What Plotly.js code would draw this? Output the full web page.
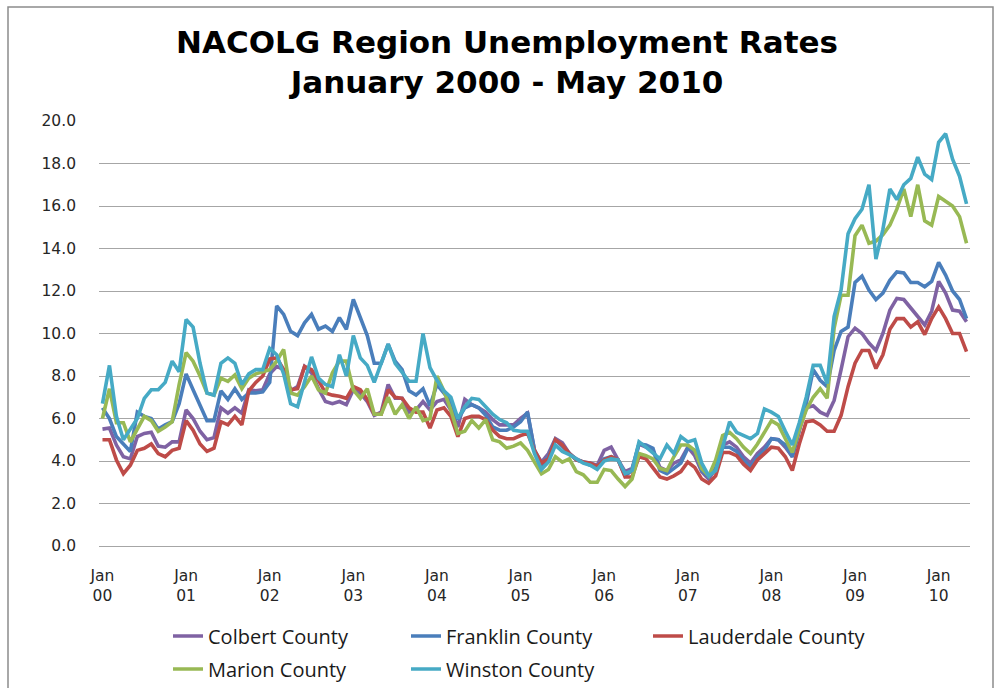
<!DOCTYPE html>
<html>
<head>
<meta charset="utf-8">
<script src="https://cdn.plot.ly/plotly-3.0.1.min.js"></script>
<style>
html,body{margin:0;padding:0;background:#ffffff;}
#chart{width:997px;height:688px;}
</style>
</head>
<body>
<div id="chart"></div>
<script>
// ---- categories (Jan 2000 .. May 2010, monthly) ----
const monthNames = ['Jan','Feb','Mar','Apr','May','Jun','Jul','Aug','Sep','Oct','Nov','Dec'];
const firstYear = 2000;
const monthCount = 125;
const months = [];
for (let k = 0; k < monthCount; k++) {
  const yr = firstYear + Math.floor(k / 12);
  months.push(monthNames[k % 12] + ' ' + String(yr).slice(2));
}
const tickMonths = months.filter(m => m.startsWith('Jan'));
const tickLabels = tickMonths.map(m => m.replace(' ', '<br>'));

// ---- series values (percent) ----
const colbert = [
  5.5,5.55,4.75,4.2,4.1,5.15,5.3,5.35,4.7,4.65,4.9,4.9,
  6.4,6.0,5.4,5.0,5.1,6.5,6.25,6.5,6.25,7.35,7.3,7.35,
  8.1,8.45,8.3,7.3,7.5,8.45,8.15,7.4,6.8,6.7,6.8,6.65,
  7.35,7.2,6.8,6.15,6.3,7.6,6.95,6.95,6.3,6.4,6.8,6.4,
  6.8,6.9,6.4,5.6,6.9,6.65,6.5,6.3,5.95,5.7,5.7,5.7,
  6.0,6.25,4.5,3.95,4.35,5.05,4.85,4.35,4.1,3.95,3.9,3.8,
  4.5,4.65,4.05,3.5,3.65,4.8,4.65,4.5,3.7,3.55,3.9,4.05,
  4.65,4.25,3.5,3.15,3.65,4.75,4.9,4.65,4.2,3.9,4.35,4.65,
  5.05,5.0,4.65,4.2,5.45,6.5,6.6,6.3,6.15,6.85,8.3,9.85,
  10.25,10.0,9.55,9.2,10.0,11.1,11.65,11.6,11.2,10.8,10.4,11.05,
  12.45,11.9,11.1,11.05,10.55
];
const franklin = [
  6.5,6.0,5.15,4.8,4.45,6.3,6.1,6.0,5.5,5.7,5.85,6.7,
  8.1,7.35,6.65,5.9,5.9,7.3,6.9,7.4,6.9,7.2,7.2,7.25,
  7.7,11.3,10.9,10.1,9.9,10.5,10.9,10.2,10.35,10.1,10.75,10.2,
  11.6,10.8,9.9,8.6,8.6,9.5,8.7,8.3,7.3,7.1,7.4,6.6,
  7.6,7.2,6.8,5.95,6.5,6.65,6.5,6.15,5.6,5.45,5.45,5.6,
  5.85,6.3,4.5,3.8,4.2,5.0,4.7,4.35,4.05,3.95,3.8,3.75,
  4.1,4.2,4.05,3.3,3.55,4.8,4.75,4.6,3.55,3.4,3.65,3.9,
  4.6,4.5,3.55,3.25,3.65,4.65,4.65,4.45,4.05,3.7,4.2,4.5,
  5.05,5.0,4.75,4.2,5.45,6.7,8.3,7.8,7.5,9.2,10.1,10.3,
  12.4,12.7,12.05,11.6,11.9,12.5,12.9,12.85,12.4,12.4,12.2,12.45,
  13.35,12.75,12.0,11.6,10.7
];
const lauderdale = [
  5.0,5.0,4.05,3.4,3.8,4.5,4.6,4.8,4.35,4.2,4.5,4.6,
  5.9,5.45,4.8,4.45,4.6,5.85,5.7,6.1,5.7,7.3,7.7,8.0,
  8.8,8.85,8.3,7.35,7.4,8.45,8.3,7.8,7.2,7.1,7.05,6.95,
  7.5,7.35,6.9,6.2,6.2,7.35,7.0,6.95,6.5,6.3,6.3,5.55,
  6.4,6.5,6.1,5.15,6.0,6.1,6.1,5.95,5.45,5.15,5.05,5.05,
  5.2,5.3,4.5,3.9,4.1,5.0,4.75,4.35,4.05,3.95,3.9,3.75,
  4.05,4.2,4.05,3.25,3.25,4.2,4.1,3.7,3.25,3.15,3.3,3.5,
  3.95,3.7,3.15,2.95,3.3,4.4,4.4,4.25,3.85,3.55,4.05,4.35,
  4.65,4.6,4.2,3.55,4.8,5.85,5.9,5.7,5.4,5.4,6.15,7.5,
  8.6,9.2,9.2,8.35,9.0,10.2,10.7,10.7,10.3,10.55,9.95,10.7,
  11.25,10.7,10.0,10.0,9.15
];
const marion = [
  6.0,7.4,5.8,5.8,4.9,5.5,6.1,5.9,5.4,5.6,5.85,7.6,
  9.1,8.7,8.0,7.2,7.1,7.9,7.75,8.05,7.4,7.9,8.1,8.2,
  8.3,8.7,9.25,7.2,7.1,7.5,8.0,7.35,7.2,8.15,8.7,8.7,
  7.35,6.95,7.4,6.2,6.2,7.0,6.2,6.65,6.0,6.55,5.9,6.0,
  8.0,7.3,6.4,5.3,5.4,5.9,5.55,5.95,5.0,4.9,4.6,4.7,
  4.85,4.5,3.95,3.4,3.6,4.2,3.95,4.1,3.5,3.35,3.0,3.0,
  3.6,3.55,3.15,2.8,3.15,4.35,4.25,4.1,3.65,3.55,4.2,4.75,
  4.75,4.5,3.65,3.3,4.05,5.2,5.35,5.05,4.65,4.35,4.8,5.35,
  5.9,5.7,5.05,4.4,5.5,6.4,7.0,7.4,6.95,10.25,11.8,11.8,
  14.6,15.1,14.25,14.35,14.65,15.1,15.85,16.8,15.5,17.0,15.3,15.1,
  16.45,16.2,16.0,15.5,14.25
];
const winston = [
  6.7,8.5,6.1,5.0,5.5,6.0,6.95,7.35,7.35,7.7,8.7,8.2,
  10.66,10.3,8.6,7.2,7.1,8.6,8.85,8.6,7.6,8.1,8.3,8.3,
  9.3,9.0,8.1,6.7,6.55,7.7,8.9,7.9,7.6,7.5,9.0,8.0,
  9.9,8.85,8.5,7.7,8.6,9.5,8.6,8.2,7.75,7.75,10.0,8.4,
  7.8,7.3,7.0,6.0,6.55,6.95,6.9,6.55,6.2,5.95,5.8,5.45,
  5.4,5.4,4.35,3.6,3.95,4.75,4.45,4.3,4.1,3.9,3.8,3.6,
  4.0,4.1,4.05,3.4,3.55,4.9,4.65,4.35,4.1,4.75,4.35,5.15,
  4.9,5.0,3.9,3.3,3.55,4.65,5.85,5.35,5.2,5.05,5.3,6.45,
  6.3,6.1,5.4,4.75,5.8,7.0,8.5,8.5,7.65,10.8,12.05,14.7,
  15.4,15.85,17.0,13.5,14.9,16.8,16.3,17.0,17.3,18.3,17.5,17.25,
  19.0,19.4,18.2,17.4,16.1
];

const seriesNames = ['Colbert County','Franklin County','Lauderdale County','Marion County','Winston County'];
const seriesValues = [colbert, franklin, lauderdale, marion, winston];
const seriesColors = ['#7f62a3','#4a7ebb','#be4b48','#98b954','#46aac5'];
const legendIds = ['legend','legend2','legend3','legend4','legend5'];

const traces = seriesNames.map((name, k) => ({
  type: 'scatter',
  mode: 'lines',
  name: name,
  x: months,
  y: seriesValues[k],
  line: {color: seriesColors[k], width: 3.6},
  legend: legendIds[k],
  hoverinfo: 'x+y+name'
}));

// plot-area geometry in px (used to place paper-referenced items)
const W = 997, H = 688;
const M = {l: 99, r: 27, t: 121, b: 142, autoexpand: false};
const PW = W - M.l - M.r, PH = H - M.t - M.b;
const px2x = px => (px - M.l) / PW;
const py2y = py => (H - M.b - py) / PH;

const legendFont = {family: 'Open Sans, sans-serif', size: 20, color: '#1a1a1a'};
const legendPos = [[168, 636], [406, 636], [648, 636], [168, 669], [406, 669]];

const layout = {
  width: W, height: H,
  margin: M,
  paper_bgcolor: '#ffffff',
  plot_bgcolor: '#ffffff',
  showlegend: true,
  title: {
    text: 'NACOLG Region Unemployment Rates<br>January 2000 - May 2010',
    font: {family: 'DejaVu Sans, sans-serif', size: 31, color: '#000000', weight: 700},
    x: 507 / W, xanchor: 'center',
    y: 1 - 53 / H, yanchor: 'middle'
  },
  xaxis: {
    type: 'category',
    range: [-0.5, monthCount - 0.5],
    tickvals: tickMonths,
    ticktext: tickLabels,
    tickangle: 0,
    showgrid: false,
    zeroline: false,
    showline: true,
    linecolor: '#a6a6a6',
    linewidth: 1,
    ticks: '',
    ticklabelstandoff: 15,
    tickfont: {family: 'DejaVu Sans, sans-serif', size: 15.5, color: '#262626'}
  },
  yaxis: {
    range: [0, 20],
    dtick: 2,
    tick0: 0,
    tickformat: '.1f',
    showgrid: true,
    gridcolor: '#a6a6a6',
    gridwidth: 1,
    zeroline: false,
    showline: false,
    ticks: '',
    ticklabelstandoff: 22,
    tickfont: {family: 'DejaVu Sans, sans-serif', size: 15.5, color: '#262626'}
  },
  shapes: [{
    type: 'rect', xref: 'paper', yref: 'paper',
    x0: px2x(8), x1: px2x(993), y0: py2y(700), y1: py2y(7),
    line: {color: '#8c8c8c', width: 1.5},
    fillcolor: 'rgba(0,0,0,0)', layer: 'below'
  }]
};

legendIds.forEach((id, k) => {
  layout[id] = {
    orientation: 'h',
    x: px2x(legendPos[k][0]), xanchor: 'left',
    y: py2y(legendPos[k][1]), yanchor: 'middle',
    xref: 'paper', yref: 'paper',
    bgcolor: 'rgba(0,0,0,0)',
    borderwidth: 0,
    font: legendFont
  };
});

Plotly.newPlot('chart', traces, layout, {displayModeBar: false, responsive: false});
</script>
</body>
</html>
